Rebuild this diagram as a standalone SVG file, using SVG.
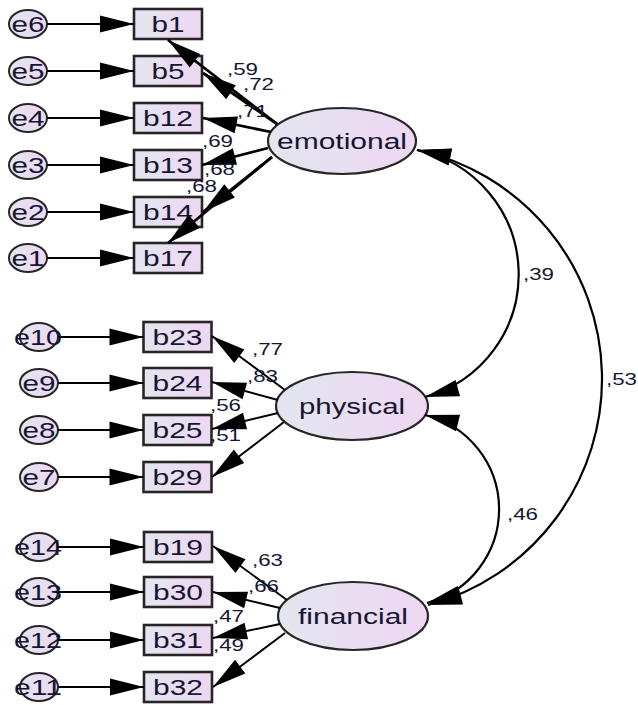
<svg xmlns="http://www.w3.org/2000/svg" width="638" height="705" viewBox="0 0 638 705">
<defs>
<linearGradient id="gf" x1="0" y1="0" x2="1" y2="0">
<stop offset="0" stop-color="#e3e6f0"/>
<stop offset="1" stop-color="#eed7f2"/>
</linearGradient>
<marker id="ah" markerUnits="userSpaceOnUse" markerWidth="36" markerHeight="18" refX="34" refY="8.5" orient="auto-start-reverse" overflow="visible">
<path d="M0,0 L34,8.5 L0,17 Z" fill="#000"/>
</marker>
<style>
.box{fill:url(#gf);stroke:#262626;stroke-width:2.6}
.lat{fill:url(#gf);stroke:#262626;stroke-width:2.2}
.err{fill:url(#gf);stroke:#262626;stroke-width:2}
.t{font-family:"Liberation Sans",Arial,sans-serif;font-size:22px;fill:#161632;text-anchor:middle}
.l{font-family:"Liberation Sans",Arial,sans-serif;font-size:17px;fill:#161632}
.c{fill:none;stroke:#000;stroke-width:2;marker-end:url(#ah)}
.cl{fill:none;stroke:#000;stroke-width:2.8;marker-end:url(#ah)}
.arc{fill:none;stroke:#000;stroke-width:2.2;marker-start:url(#ah);marker-end:url(#ah)}
</style>
</defs>
<rect width="638" height="705" fill="#fff"/>

<!-- latent variables -->
<g id="emotional"><ellipse class="lat" cx="342" cy="141" rx="74" ry="33"/><text class="t" x="342" y="149" textLength="130" lengthAdjust="spacingAndGlyphs">emotional</text></g>
<g id="physical"><ellipse class="lat" cx="352" cy="406" rx="76" ry="34"/><text class="t" x="352" y="414" textLength="106" lengthAdjust="spacingAndGlyphs">physical</text></g>
<g id="financial"><ellipse class="lat" cx="353" cy="616" rx="75" ry="34"/><text class="t" x="353" y="624" textLength="110" lengthAdjust="spacingAndGlyphs">financial</text></g>

<!-- observed: emotional -->
<g id="b1"><rect class="box" x="134" y="9" width="68" height="30"/><text class="t" x="168" y="32" textLength="33" lengthAdjust="spacingAndGlyphs">b1</text></g>
<g id="b5"><rect class="box" x="134" y="56" width="68" height="30"/><text class="t" x="168" y="79" textLength="33" lengthAdjust="spacingAndGlyphs">b5</text></g>
<g id="b12"><rect class="box" x="134" y="103" width="68" height="30"/><text class="t" x="168" y="126" textLength="50" lengthAdjust="spacingAndGlyphs">b12</text></g>
<g id="b13"><rect class="box" x="134" y="150" width="68" height="30"/><text class="t" x="168" y="173" textLength="50" lengthAdjust="spacingAndGlyphs">b13</text></g>
<g id="b14"><rect class="box" x="134" y="197" width="68" height="30"/><text class="t" x="168" y="220" textLength="50" lengthAdjust="spacingAndGlyphs">b14</text></g>
<g id="b17"><rect class="box" x="134" y="243" width="68" height="30"/><text class="t" x="168" y="266" textLength="50" lengthAdjust="spacingAndGlyphs">b17</text></g>

<!-- observed: physical -->
<g id="b23"><rect class="box" x="143.5" y="322" width="68" height="30"/><text class="t" x="177.5" y="345" textLength="50" lengthAdjust="spacingAndGlyphs">b23</text></g>
<g id="b24"><rect class="box" x="143.5" y="368" width="68" height="30"/><text class="t" x="177.5" y="391" textLength="50" lengthAdjust="spacingAndGlyphs">b24</text></g>
<g id="b25"><rect class="box" x="143.5" y="415" width="68" height="30"/><text class="t" x="177.5" y="438" textLength="50" lengthAdjust="spacingAndGlyphs">b25</text></g>
<g id="b29"><rect class="box" x="143.5" y="462" width="68" height="30"/><text class="t" x="177.5" y="485" textLength="50" lengthAdjust="spacingAndGlyphs">b29</text></g>

<!-- observed: financial -->
<g id="b19"><rect class="box" x="144" y="532" width="68" height="30"/><text class="t" x="178" y="555" textLength="50" lengthAdjust="spacingAndGlyphs">b19</text></g>
<g id="b30"><rect class="box" x="144" y="577" width="68" height="30"/><text class="t" x="178" y="600" textLength="50" lengthAdjust="spacingAndGlyphs">b30</text></g>
<g id="b31"><rect class="box" x="144" y="625" width="68" height="30"/><text class="t" x="178" y="648" textLength="50" lengthAdjust="spacingAndGlyphs">b31</text></g>
<g id="b32"><rect class="box" x="144" y="672" width="68" height="30"/><text class="t" x="178" y="695" textLength="50" lengthAdjust="spacingAndGlyphs">b32</text></g>

<!-- error terms -->
<g id="e6"><ellipse class="err" cx="28" cy="24" rx="19" ry="14"/><text class="t" x="28" y="32" textLength="33" lengthAdjust="spacingAndGlyphs">e6</text></g>
<g id="e5"><ellipse class="err" cx="28" cy="71" rx="19" ry="14"/><text class="t" x="28" y="79" textLength="33" lengthAdjust="spacingAndGlyphs">e5</text></g>
<g id="e4"><ellipse class="err" cx="28" cy="118" rx="19" ry="14"/><text class="t" x="28" y="126" textLength="33" lengthAdjust="spacingAndGlyphs">e4</text></g>
<g id="e3"><ellipse class="err" cx="28" cy="165" rx="19" ry="14"/><text class="t" x="28" y="173" textLength="33" lengthAdjust="spacingAndGlyphs">e3</text></g>
<g id="e2"><ellipse class="err" cx="28" cy="212" rx="19" ry="14"/><text class="t" x="28" y="220" textLength="33" lengthAdjust="spacingAndGlyphs">e2</text></g>
<g id="e1"><ellipse class="err" cx="28" cy="258" rx="19" ry="14"/><text class="t" x="28" y="266" textLength="33" lengthAdjust="spacingAndGlyphs">e1</text></g>
<g id="e10"><ellipse class="err" cx="39" cy="337" rx="19" ry="14"/><text class="t" x="38" y="345" textLength="48" lengthAdjust="spacingAndGlyphs">e10</text></g>
<g id="e9"><ellipse class="err" cx="39" cy="383" rx="19" ry="14"/><text class="t" x="39" y="391" textLength="33" lengthAdjust="spacingAndGlyphs">e9</text></g>
<g id="e8"><ellipse class="err" cx="39" cy="430" rx="19" ry="14"/><text class="t" x="39" y="438" textLength="33" lengthAdjust="spacingAndGlyphs">e8</text></g>
<g id="e7"><ellipse class="err" cx="39" cy="477" rx="19" ry="14"/><text class="t" x="39" y="485" textLength="33" lengthAdjust="spacingAndGlyphs">e7</text></g>
<g id="e14"><ellipse class="err" cx="39" cy="547" rx="19" ry="14"/><text class="t" x="38" y="555" textLength="48" lengthAdjust="spacingAndGlyphs">e14</text></g>
<g id="e13"><ellipse class="err" cx="39" cy="592" rx="19" ry="14"/><text class="t" x="38" y="600" textLength="48" lengthAdjust="spacingAndGlyphs">e13</text></g>
<g id="e12"><ellipse class="err" cx="39" cy="640" rx="19" ry="14"/><text class="t" x="38" y="648" textLength="48" lengthAdjust="spacingAndGlyphs">e12</text></g>
<g id="e11"><ellipse class="err" cx="39" cy="687" rx="19" ry="14"/><text class="t" x="38" y="695" textLength="48" lengthAdjust="spacingAndGlyphs">e11</text></g>

<!-- connectors -->
<g id="connectors">
<path class="c" d="M47,24 H134"/>
<path class="c" d="M47,71 H134"/>
<path class="c" d="M47,118 H134"/>
<path class="c" d="M47,165 H134"/>
<path class="c" d="M47,212 H134"/>
<path class="c" d="M47,258 H134"/>
<path class="c" d="M58,337 H143.5"/>
<path class="c" d="M58,383 H143.5"/>
<path class="c" d="M58,430 H143.5"/>
<path class="c" d="M58,477 H143.5"/>
<path class="c" d="M58,547 H144"/>
<path class="c" d="M58,592 H144"/>
<path class="c" d="M58,640 H144"/>
<path class="c" d="M58,687 H144"/>

<path class="cl" d="M277,124 L168,40"/>
<path class="cl" d="M277,124 L203,73"/>
<path class="cl" d="M271,132 L203,118"/>
<path class="cl" d="M268,148 L202,165"/>
<path class="cl" d="M272,157 L203,212"/>
<path class="cl" d="M272,157 L168,243"/>

<path class="c" d="M285,390 L212,336"/>
<path class="c" d="M278,400 L212,382"/>
<path class="c" d="M278,413 L212,429"/>
<path class="c" d="M284,422 L212,477"/>

<path class="c" d="M287,600 L213,546"/>
<path class="c" d="M280,608 L213,592"/>
<path class="c" d="M280,624 L213,638"/>
<path class="c" d="M285,633 L213,687"/>

<path class="arc" d="M417,150 A127,127 0 0 1 425,397"/>
<path class="arc" d="M417,150 A234,234 0 0 1 428,605"/>
<path class="arc" d="M425,415 A97,97 0 0 1 427,603"/>

<text class="l" x="227" y="75" textLength="31" lengthAdjust="spacingAndGlyphs">,59</text>
<text class="l" x="243" y="90" textLength="31" lengthAdjust="spacingAndGlyphs">,72</text>
<text class="l" x="237" y="117" textLength="31" lengthAdjust="spacingAndGlyphs">,71</text>
<text class="l" x="202" y="147" textLength="31" lengthAdjust="spacingAndGlyphs">,69</text>
<text class="l" x="204" y="175" textLength="31" lengthAdjust="spacingAndGlyphs">,68</text>
<text class="l" x="186" y="192" textLength="31" lengthAdjust="spacingAndGlyphs">,68</text>

<text class="l" x="252" y="355" textLength="31" lengthAdjust="spacingAndGlyphs">,77</text>
<text class="l" x="247" y="382" textLength="31" lengthAdjust="spacingAndGlyphs">,83</text>
<text class="l" x="210" y="411" textLength="31" lengthAdjust="spacingAndGlyphs">,56</text>
<text class="l" x="210" y="441" textLength="31" lengthAdjust="spacingAndGlyphs">,51</text>

<text class="l" x="252" y="566" textLength="31" lengthAdjust="spacingAndGlyphs">,63</text>
<text class="l" x="248" y="592" textLength="31" lengthAdjust="spacingAndGlyphs">,66</text>
<text class="l" x="213" y="622" textLength="31" lengthAdjust="spacingAndGlyphs">,47</text>
<text class="l" x="213" y="651" textLength="31" lengthAdjust="spacingAndGlyphs">,49</text>

<text class="l" x="523" y="280" textLength="31" lengthAdjust="spacingAndGlyphs">,39</text>
<text class="l" x="606" y="385" textLength="31" lengthAdjust="spacingAndGlyphs">,53</text>
<text class="l" x="507" y="520" textLength="31" lengthAdjust="spacingAndGlyphs">,46</text>
</g>
</svg>
